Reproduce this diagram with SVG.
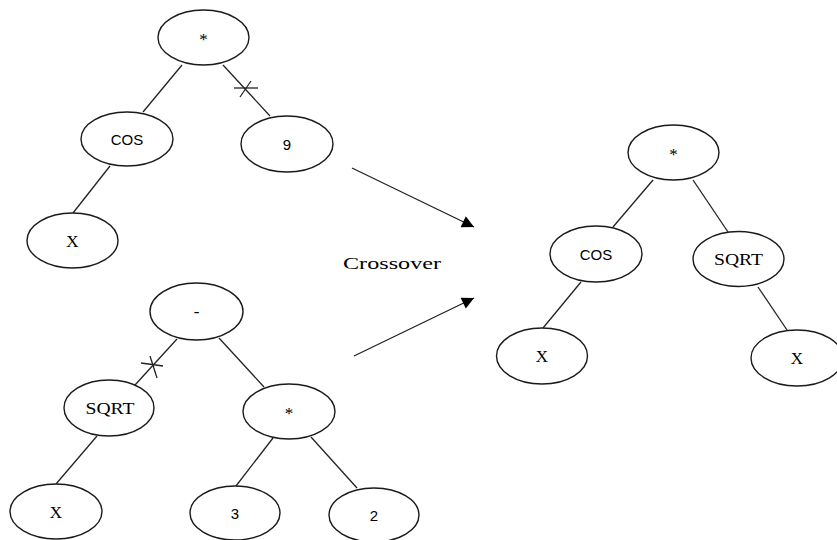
<svg xmlns="http://www.w3.org/2000/svg" width="837" height="540" viewBox="0 0 837 540">
  <defs>
    <marker id="arrow" viewBox="0 0 10 10" refX="10" refY="5" markerWidth="13" markerHeight="12" markerUnits="userSpaceOnUse" orient="auto">
      <path d="M0,0 L10,5 L0,10 z" fill="#000"/>
    </marker>
    <style>
      ellipse { fill: #fff; stroke: #1a1a1a; stroke-width: 1.4; }
      line { stroke: #222; stroke-width: 1.3; }
      text { font-family: "Liberation Serif", "Times New Roman", serif; font-size: 17px; fill: #000; text-anchor: middle; }
      .sans { font-family: "Liberation Sans", Arial, sans-serif; font-size: 15px; }
    </style>
  </defs>

  <g id="connectors">
    <!-- parent tree 1 -->
    <line x1="182" y1="65" x2="143" y2="112"/>
    <line x1="223" y1="65" x2="270" y2="116"/>
    <line x1="110" y1="166" x2="73" y2="213"/>
    <!-- cut mark on edge * - 9 -->
    <line x1="234" y1="88" x2="258" y2="88"/>
    <line x1="240" y1="97" x2="251" y2="81"/>
    <!-- parent tree 2 -->
    <line x1="177" y1="339" x2="135" y2="385"/>
    <line x1="219" y1="338" x2="264" y2="387"/>
    <line x1="97" y1="436" x2="56" y2="484"/>
    <line x1="273" y1="438" x2="236" y2="486"/>
    <line x1="311" y1="437" x2="357" y2="488"/>
    <!-- cut mark on edge - to SQRT -->
    <line x1="141" y1="363" x2="163" y2="366"/>
    <line x1="150" y1="356" x2="157" y2="378"/>
    <!-- offspring tree -->
    <line x1="653" y1="180" x2="613" y2="227"/>
    <line x1="693" y1="180" x2="728" y2="232"/>
    <line x1="581" y1="282" x2="543" y2="328"/>
    <line x1="758" y1="287" x2="787" y2="330"/>
    <!-- crossover arrows -->
    <line x1="352" y1="168" x2="474" y2="227" marker-end="url(#arrow)"/>
    <line x1="354" y1="356" x2="474" y2="298" marker-end="url(#arrow)"/>
  </g>

  <text id="crossover-label" x="343" y="269" style="text-anchor:start" textLength="98" lengthAdjust="spacingAndGlyphs">Crossover</text>

  <!-- parent tree 1 -->
  <g id="p1-mul"><ellipse cx="203.5" cy="37.5" rx="45.5" ry="27.5"/><text x="203.5" y="45">*</text></g>
  <g id="p1-cos"><ellipse cx="127" cy="139" rx="46" ry="27"/><text class="sans" x="127" y="144.5">COS</text></g>
  <g id="p1-nine"><ellipse cx="287" cy="144" rx="46" ry="28"/><text class="sans" x="287" y="149.5">9</text></g>
  <g id="p1-x"><ellipse cx="72.5" cy="240.5" rx="45.5" ry="27.5"/><text x="72.5" y="246.5">X</text></g>

  <!-- parent tree 2 -->
  <g id="p2-minus"><ellipse cx="196.5" cy="311.5" rx="46.5" ry="28.5"/><text x="196.5" y="317">-</text></g>
  <g id="p2-sqrt"><ellipse cx="109" cy="408" rx="45" ry="28"/><text x="110" y="414" textLength="49" lengthAdjust="spacingAndGlyphs">SQRT</text></g>
  <g id="p2-mul"><ellipse cx="289" cy="411.5" rx="46" ry="27.5"/><text x="289" y="419">*</text></g>
  <g id="p2-x"><ellipse cx="56" cy="511.5" rx="46" ry="27.5"/><text x="56" y="517.5">X</text></g>
  <g id="p2-three"><ellipse cx="235" cy="513" rx="45" ry="27"/><text class="sans" x="235" y="518.5">3</text></g>
  <g id="p2-two"><ellipse cx="374" cy="515" rx="45" ry="27"/><text class="sans" x="374" y="520.5">2</text></g>

  <!-- offspring tree -->
  <g id="c-mul"><ellipse cx="673.5" cy="152.5" rx="45.5" ry="27.5"/><text x="673.5" y="160">*</text></g>
  <g id="c-cos"><ellipse cx="596" cy="254" rx="46" ry="28"/><text class="sans" x="596" y="259.5">COS</text></g>
  <g id="c-sqrt"><ellipse cx="738.5" cy="259" rx="45.5" ry="27.5"/><text x="738.5" y="265" textLength="49" lengthAdjust="spacingAndGlyphs">SQRT</text></g>
  <g id="c-x1"><ellipse cx="542" cy="356" rx="45.5" ry="28"/><text x="542" y="362">X</text></g>
  <g id="c-x2"><ellipse cx="797" cy="358" rx="46" ry="28"/><text x="797" y="364">X</text></g>
</svg>
